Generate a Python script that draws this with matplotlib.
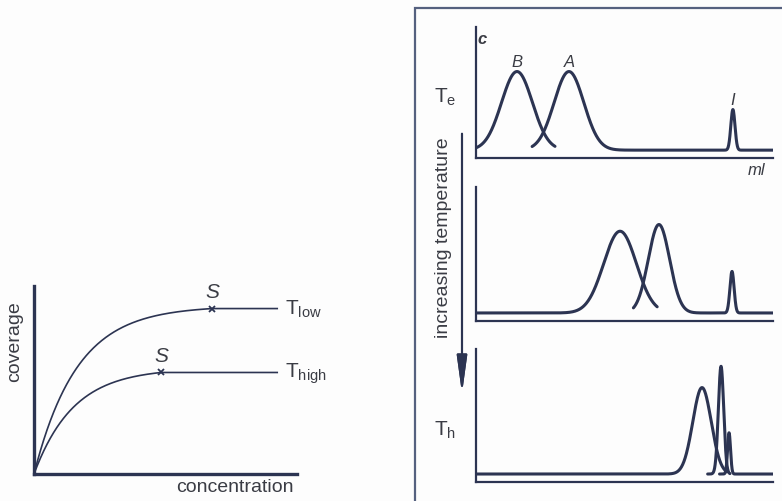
import numpy as np
import matplotlib.pyplot as plt
from matplotlib.patches import Rectangle

plt.rcParams['font.family'] = ['Liberation Sans', 'DejaVu Sans']
plt.rcParams['mathtext.default'] = 'regular'

W, H = 782, 502
ink = '#2c3452'
txt = '#3a3c44'

# adsorption isotherms (coverage vs concentration)
iso_labels = ['T$_{low}$', 'T$_{high}$']
iso_plateau = [0.88, 0.54]
iso_sat = [6.77, 4.83]
iso_rate = [1.63, 1.50]
iso_end = 9.28

# chromatograms at T_e, intermediate and T_h: peak centre, height, width
te_pos = [1.38, 3.13, 8.65]
te_height = [0.60, 0.60, 0.31]
te_width = [0.52, 0.50, 0.07]
te_names = ['B', 'A', 'I']
te_curves = [[0], [1, 2]]
te_spans = [(0.0, 2.66), (1.89, 10.0)]

mid_pos = [4.85, 6.16, 8.62]
mid_height = [0.61, 0.66, 0.31]
mid_width = [0.55, 0.36, 0.07]
mid_curves = [[0], [1, 2]]
mid_spans = [(0.0, 6.10), (5.30, 10.0)]

th_pos = [7.61, 8.25, 8.52]
th_height = [0.65, 0.81, 0.31]
th_width = [0.31, 0.09, 0.05]
th_curves = [[0], [1], [2]]
th_spans = [(0.0, 8.45), (7.80, 8.55), (8.20, 10.0)]
baseline = 0.06


def px_axes(x0, y0, x1, y1):
    # axes placed by pixel box (left, top, right, bottom)
    return fig.add_axes([x0 / W, 1 - y1 / H, (x1 - x0) / W, (y1 - y0) / H])


def bare(ax, lw):
    ax.set_facecolor('none')
    for s in ['top', 'right']:
        ax.spines[s].set_visible(False)
    for s in ['left', 'bottom']:
        ax.spines[s].set_linewidth(lw)
        ax.spines[s].set_color(ink)
    ax.set_xticks([])
    ax.set_yticks([])


def ftext(x, y, s, **kw):
    fig.text(x / W, 1 - y / H, s, color=txt, **kw)


fig = plt.figure(figsize=(W / 100, H / 100), dpi=100, facecolor='#fdfdfd')

# left: coverage isotherms
ax = px_axes(34, 287, 297, 475)
bare(ax, 2.4)
ax.set_xlim(0, 10)
ax.set_ylim(0, 1)
for lab, top, xs, k in zip(iso_labels, iso_plateau, iso_sat, iso_rate):
    x = np.linspace(0, iso_end, 300)
    y = top * (1 - np.exp(-np.minimum(x, xs) / k)) / (1 - np.exp(-xs / k))
    ax.plot(x, y, color=ink, lw=1.2, solid_capstyle='butt')
    ax.plot([xs], [top], marker='x', ms=5, mew=1.3, color=ink)
    ax.text(xs, top + 0.04, 'S', style='italic', fontsize=15, color=txt,
            ha='center', va='bottom')
    ax.text(iso_end + 0.25, top, lab, fontsize=15, color=txt,
            ha='left', va='center', clip_on=False)
ftext(15, 342, 'coverage', rotation=90, fontsize=14, ha='center', va='center')
ftext(235, 488, 'concentration', fontsize=14, ha='center', va='center')

# right: framed chromatogram series
fig.patches.append(Rectangle((415 / W, -0.2), 2, 1.2 - 9 / H, fill=False,
                             edgecolor='#55617f', lw=1.6,
                             transform=fig.transFigure))

boxes = [(476, 28, 773, 159), (476, 188, 773, 322), (476, 350, 773, 483)]
series = [(te_pos, te_height, te_width, te_curves, te_spans),
          (mid_pos, mid_height, mid_width, mid_curves, mid_spans),
          (th_pos, th_height, th_width, th_curves, th_spans)]
for box, (pos, hgt, wid, curves, spans) in zip(boxes, series):
    ax = px_axes(*box)
    bare(ax, 1.6)
    ax.set_xlim(0, 10)
    ax.set_ylim(0, 1)
    for idx, (a, b) in zip(curves, spans):
        x = np.linspace(a, b, 800)
        y = np.full_like(x, baseline)
        for i in idx:
            y += hgt[i] * np.exp(-0.5 * ((x - pos[i]) / wid[i]) ** 2)
        ax.plot(x, y, color=ink, lw=2.2, solid_capstyle='round')
    if pos is te_pos:
        for p, h, n in zip(pos, hgt, te_names):
            ax.text(p, baseline + h + 0.02, n, style='italic', fontsize=12,
                    color=txt, ha='center', va='bottom')
        ax.text(0.05, 0.97, 'c', style='italic', fontweight='bold',
                fontsize=12, color=txt, ha='left', va='top')
        ax.text(9.45, -0.03, 'ml', style='italic', fontsize=12, color=txt,
                ha='center', va='top', clip_on=False)

ftext(445, 97, 'T$_e$', fontsize=15, ha='center', va='center')
ftext(445, 430, 'T$_h$', fontsize=15, ha='center', va='center')
ftext(444, 238, 'increasing temperature', rotation=90, fontsize=14,
      ha='center', va='center')
fig.add_artist(plt.annotate(
    '', xy=(462 / W, 1 - 397 / H), xytext=(462 / W, 1 - 132 / H),
    xycoords='figure fraction', textcoords='figure fraction',
    arrowprops=dict(arrowstyle='-|>,head_length=1.6,head_width=0.22',
                    lw=1.5, color=ink, mutation_scale=14)))

fig.savefig('out.png', dpi=100, facecolor=fig.get_facecolor())
